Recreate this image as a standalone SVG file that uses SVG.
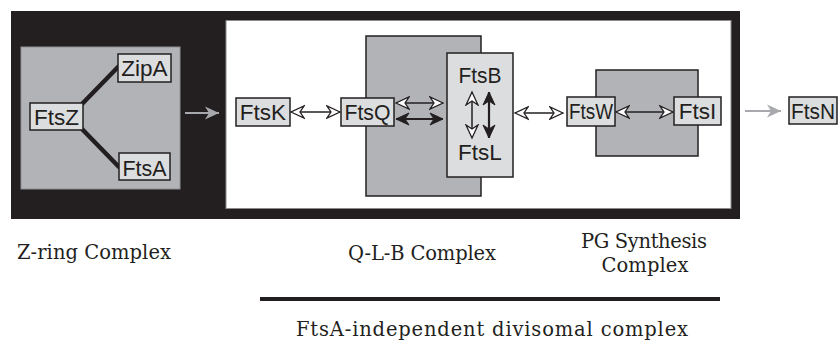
<svg xmlns="http://www.w3.org/2000/svg" width="839" height="340" viewBox="0 0 839 340">
<style>
  .lbl{font-family:"Liberation Sans",Arial,sans-serif;font-size:22.5px;fill:#231f20;text-anchor:middle}
  .cap{font-family:"DejaVu Serif","Liberation Serif",serif;font-size:19.5px;fill:#231f20;text-anchor:middle}
  .pbox{fill:#dcdddf;stroke:#231f20;stroke-width:1.5}
  .gbox{fill:#b1b3b6;stroke:#231f20;stroke-width:1.5}
  .arr{stroke:#231f20;stroke-width:1.5;fill:none}
  .arrO{marker-start:url(#openHead);marker-end:url(#openHead)}
  .arrF{marker-start:url(#fillHead);marker-end:url(#fillHead);stroke-width:2.2}
  .garr{stroke:#a7a9ac;stroke-width:2;fill:none;marker-end:url(#grayHead)}
  .link{stroke:#231f20;stroke-width:4.5;stroke-linecap:round}
</style>
<defs>
  <marker id="openHead" viewBox="-1 -8 16 16" refX="13" refY="0" markerWidth="16" markerHeight="16" markerUnits="userSpaceOnUse" orient="auto-start-reverse">
    <path d="M13,0 L0,-6 L4,0 L0,6 Z" fill="#ffffff" stroke="#231f20" stroke-width="1.3" stroke-linejoin="miter"/>
  </marker>
  <marker id="fillHead" viewBox="-1 -8 16 16" refX="13" refY="0" markerWidth="16" markerHeight="16" markerUnits="userSpaceOnUse" orient="auto-start-reverse">
    <path d="M13,0 L0,-6 L4,0 L0,6 Z" fill="#231f20" stroke="#231f20" stroke-width="1"/>
  </marker>
  <marker id="grayHead" viewBox="-1 -8 17 16" refX="14" refY="0" markerWidth="17" markerHeight="16" markerUnits="userSpaceOnUse" orient="auto">
    <path d="M14,0 L0,-6.5 L4,0 L0,6.5 Z" fill="#a7a9ac"/>
  </marker>
</defs>

<!-- background panels -->
<g id="panels">
  <rect x="11" y="11" width="729" height="208" fill="#231f20"/>
  <rect x="226" y="20.5" width="505" height="188" fill="#ffffff" stroke="#8a8a8a" stroke-width="1"/>
</g>

<g id="zring-complex">
  <rect x="21" y="47" width="159" height="142" fill="#b1b3b6" stroke="#8e9093" stroke-width="1"/>
</g>
<g id="qlb-complex">
  <rect class="gbox" x="366" y="36" width="115" height="160"/>
</g>
<g id="pg-complex">
  <rect class="gbox" x="596" y="70" width="102" height="86"/>
</g>

<g id="connectors">
  <line class="link" x1="82" y1="104" x2="118" y2="67"/>
  <line class="link" x1="82" y1="129" x2="119" y2="167"/>
  <line class="garr" x1="185" y1="113" x2="219" y2="113"/>
  <line class="arr arrO" x1="291" y1="112" x2="340" y2="112"/>
  <line class="arr arrO" x1="396" y1="103" x2="443" y2="103"/>
  <line class="arr arrF" x1="396" y1="119" x2="443" y2="119"/>
  <line class="arr arrO" x1="515" y1="113" x2="563" y2="113"/>
  <line class="arr arrO" x1="616" y1="112" x2="673" y2="112"/>
  <line class="garr" x1="745" y1="111" x2="781" y2="111"/>
</g>

<g id="FtsZ"><rect class="pbox" x="30" y="103" width="53" height="27"/><text class="lbl" x="56.5" y="124.5">FtsZ</text></g>
<g id="ZipA"><rect class="pbox" x="118" y="54" width="53" height="28"/><text class="lbl" x="144.5" y="76">ZipA</text></g>
<g id="FtsA"><rect class="pbox" x="119" y="153" width="51" height="27"/><text class="lbl" x="144.5" y="175.5" textLength="44" lengthAdjust="spacingAndGlyphs">FtsA</text></g>
<g id="FtsK"><rect class="pbox" x="236" y="98" width="54" height="28"/><text class="lbl" x="263" y="120">FtsK</text></g>
<g id="FtsQ"><rect class="pbox" x="341" y="98" width="53" height="28"/><text class="lbl" x="367.5" y="120" textLength="46" lengthAdjust="spacingAndGlyphs">FtsQ</text></g>
<g id="FtsB-FtsL">
  <rect class="pbox" x="447" y="53" width="66" height="124"/>
  <text class="lbl" x="480" y="83" textLength="43" lengthAdjust="spacingAndGlyphs">FtsB</text>
  <text class="lbl" x="480" y="160">FtsL</text>
  <line class="arr arrO" x1="472" y1="92" x2="472" y2="138"/>
  <line class="arr arrF" x1="489" y1="92" x2="489" y2="138"/>
</g>
<g id="FtsW"><rect class="pbox" x="567" y="97" width="48" height="29"/><text class="lbl" x="591" y="119" textLength="44" lengthAdjust="spacingAndGlyphs">FtsW</text></g>
<g id="FtsI"><rect class="pbox" x="674" y="97" width="47" height="28"/><text class="lbl" x="697.5" y="119">FtsI</text></g>
<g id="FtsN"><rect class="pbox" x="789" y="97" width="48" height="27"/><text class="lbl" x="813" y="118.5" textLength="44" lengthAdjust="spacingAndGlyphs">FtsN</text></g>

<g id="captions">
  <text class="cap" x="94" y="259" textLength="154" lengthAdjust="spacing">Z-ring Complex</text>
  <text class="cap" x="422" y="260" textLength="148" lengthAdjust="spacing">Q-L-B Complex</text>
  <text class="cap" x="644" y="248" textLength="126" lengthAdjust="spacing">PG Synthesis</text>
  <text class="cap" x="645" y="272" textLength="87" lengthAdjust="spacing">Complex</text>
  <line x1="260" y1="299" x2="720" y2="299" stroke="#231f20" stroke-width="4"/>
  <text class="cap" x="492" y="336" textLength="392" lengthAdjust="spacing">FtsA-independent divisomal complex</text>
</g>
</svg>
